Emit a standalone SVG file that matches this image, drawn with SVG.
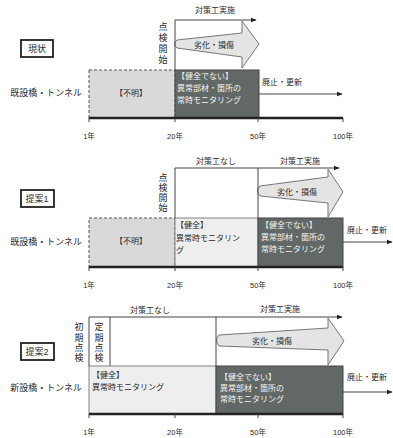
<svg xmlns="http://www.w3.org/2000/svg" width="393" height="438" viewBox="0 0 393 438">
<defs>
<marker id="ah" viewBox="0 0 10 10" refX="9" refY="5" markerWidth="6" markerHeight="6" orient="auto" markerUnits="userSpaceOnUse"><path d="M0,1 L10,5 L0,9 Z" fill="#222"/></marker>
<style>
text{font-family:"Liberation Sans","Noto Sans CJK JP",sans-serif;fill:#2a2a2a;}
.lbl{font-size:9px;}
.sm{font-size:8px;}
.vt{font-size:9px;text-anchor:middle;}
.ax{font-size:7.5px;text-anchor:middle;}
.w{fill:#f4f4f4;font-size:8px;}
.mid{text-anchor:middle;}
.tag{fill:#fff;stroke:#222;stroke-width:1.8;}
.unk{fill:#d9d9d9;stroke:#555;stroke-width:1;stroke-dasharray:3,2;}
.bad{fill:#626866;stroke:#444;stroke-width:1;}
.ok{fill:#eeeeee;stroke:#666;stroke-width:0.8;}
.big{fill:#e4e4e4;stroke:#777;stroke-width:1;}
.ln{stroke:#444;stroke-width:1;fill:none;}
.tl{stroke:#222;stroke-width:2.5;}
.tk{stroke:#444;stroke-width:1;}
</style>
</defs>

<!-- Section 1 -->
<g id="sec1">
<g id="tag1"><rect class="tag" x="21" y="40" width="32" height="17"/><text class="lbl mid" x="37" y="52">現状</text></g>
<text id="obj1" class="lbl" x="82" y="96" text-anchor="end">既設橋・トンネル</text>
<g id="unk1"><rect class="unk" x="89" y="70" width="86" height="48"/><text class="sm mid" x="131" y="96">【不明】</text></g>
<g id="bad1"><rect class="bad" x="175" y="70" width="84" height="48"/>
<text class="w" x="177" y="79">【健全でない】</text><text class="w" x="177" y="91">異常部材・箇所の</text><text class="w" x="177" y="103">常時モニタリング</text></g>
<g id="deg1"><path class="big" d="M177,40 L242,33 L242,21 L259,44 L242,68 L242,57 L177,48 Q172,44 177,40 Z"/><text class="sm mid" x="214" y="48">劣化・損傷</text></g>
<text class="sm mid" x="215" y="13">対策工実施</text>
<g id="insp1"><text x="163" y="30" class="vt">点</text><text x="163" y="41" class="vt">検</text><text x="163" y="52" class="vt">開</text><text x="163" y="63" class="vt">始</text></g>
<text class="sm" x="262" y="85">廃止・更新</text>
<g id="axis1"><line class="tl" x1="89" y1="118" x2="343" y2="118"/>
<line class="tk" x1="89" y1="118" x2="89" y2="122"/><line class="tk" x1="175" y1="118" x2="175" y2="122"/><line class="tk" x1="258" y1="118" x2="258" y2="122"/><line class="tk" x1="343" y1="118" x2="343" y2="122"/>
<text class="ax" x="89" y="139">1年</text><text class="ax" x="175" y="139">20年</text><text class="ax" x="258" y="139">50年</text><text class="ax" x="343" y="139">100年</text></g>
</g>

<!-- Section 2 -->
<g id="sec2">
<g id="tag2"><rect class="tag" x="21" y="190" width="33" height="17"/><text class="lbl mid" x="37" y="202">提案1</text></g>
<text id="obj2" class="lbl" x="82" y="245" text-anchor="end">既設橋・トンネル</text>
<g id="unk2"><rect class="unk" x="89" y="218" width="86" height="49"/><text class="sm mid" x="131" y="244">【不明】</text></g>
<g id="ok2"><rect class="ok" x="175" y="218" width="83" height="49"/>
<text class="sm" x="176" y="228">【健全】</text><text class="sm" x="176" y="241">異常時モニタリン</text><text class="sm" x="176" y="253">グ</text></g>
<g id="bad2"><rect class="bad" x="258" y="218" width="85" height="49"/>
<text class="w" x="261" y="228">【健全でない】</text><text class="w" x="261" y="240">異常部材・箇所の</text><text class="w" x="261" y="252">常時モニタリング</text></g>
<g id="deg2"><path class="big" d="M260,186 L328,177 L328,169 L343,192 L328,217 L328,203 L260,196 Q255,191 260,186 Z"/><text class="sm mid" x="297" y="195">劣化・損傷</text></g>
<text class="sm mid" x="216" y="164">対策工なし</text>
<text class="sm mid" x="300" y="164">対策工実施</text>
<g id="insp2"><text x="163" y="181" class="vt">点</text><text x="163" y="191" class="vt">検</text><text x="163" y="201" class="vt">開</text><text x="163" y="211" class="vt">始</text></g>
<text class="sm" x="347" y="233">廃止・更新</text>
<g id="axis2"><line class="tl" x1="89" y1="267" x2="343" y2="267"/>
<line class="tk" x1="89" y1="267" x2="89" y2="271"/><line class="tk" x1="175" y1="267" x2="175" y2="271"/><line class="tk" x1="258" y1="267" x2="258" y2="271"/><line class="tk" x1="343" y1="267" x2="343" y2="271"/>
<text class="ax" x="89" y="288">1年</text><text class="ax" x="175" y="288">20年</text><text class="ax" x="258" y="288">50年</text><text class="ax" x="343" y="288">100年</text></g>
</g>

<!-- Section 3 -->
<g id="sec3">
<g id="tag3"><rect class="tag" x="21" y="343" width="33" height="17"/><text class="lbl mid" x="37" y="355">提案2</text></g>
<text id="obj3" class="lbl" x="82" y="391" text-anchor="end">新設橋・トンネル</text>
<g id="ok3"><rect class="ok" x="89" y="366" width="127" height="48"/>
<text class="sm" x="92" y="378">【健全】</text><text class="sm" x="92" y="390">異常時モニタリング</text></g>
<g id="bad3"><rect class="bad" x="216" y="366" width="127" height="48"/>
<text class="w" x="220" y="380">【健全でない】</text><text class="w" x="220" y="391">異常部材・箇所の</text><text class="w" x="220" y="402">常時モニタリング</text></g>
<g id="deg3"><path class="big" d="M219,335 L328,328 L328,318 L344,341 L328,365 L328,350 L219,346 Q214,340 219,335 Z"/><text class="sm mid" x="272" y="344">劣化・損傷</text></g>
<text class="sm mid" x="150" y="313">対策工なし</text>
<text class="sm mid" x="280" y="312">対策工実施</text>
<g id="init3"><text x="79" y="330" class="vt">初</text><text x="79" y="341" class="vt">期</text><text x="79" y="351" class="vt">点</text><text x="79" y="361" class="vt">検</text></g>
<g id="per3"><text x="99" y="330" class="vt">定</text><text x="99" y="341" class="vt">期</text><text x="99" y="351" class="vt">点</text><text x="99" y="361" class="vt">検</text></g>
<text class="sm" x="347" y="380">廃止・更新</text>
<g id="axis3"><line class="tl" x1="89" y1="414" x2="343" y2="414"/>
<line class="tk" x1="89" y1="414" x2="89" y2="418"/><line class="tk" x1="175" y1="414" x2="175" y2="418"/><line class="tk" x1="258" y1="414" x2="258" y2="418"/><line class="tk" x1="343" y1="414" x2="343" y2="418"/>
<text class="ax" x="89" y="435">1年</text><text class="ax" x="175" y="435">20年</text><text class="ax" x="258" y="435">50年</text><text class="ax" x="343" y="435">100年</text></g>
</g>

<!-- Connectors -->
<g id="connectors">
<polyline class="ln" points="175,70 175,20 256,20" marker-end="url(#ah)"/>
<line class="ln" x1="259" y1="94" x2="342" y2="94" marker-end="url(#ah)"/>
<polyline class="ln" points="175,218 175,168 339,168" marker-end="url(#ah)"/>
<line class="ln" x1="258" y1="168" x2="258" y2="218"/>
<line class="ln" x1="343" y1="242" x2="392" y2="242" marker-end="url(#ah)"/>
<polyline class="ln" points="89,366 89,317 342,317" marker-end="url(#ah)"/>
<line class="ln" x1="110" y1="317" x2="110" y2="366"/>
<line class="ln" x1="216" y1="317" x2="216" y2="366"/>
<line class="ln" x1="343" y1="392" x2="392" y2="392" marker-end="url(#ah)"/>
</g>
</svg>
